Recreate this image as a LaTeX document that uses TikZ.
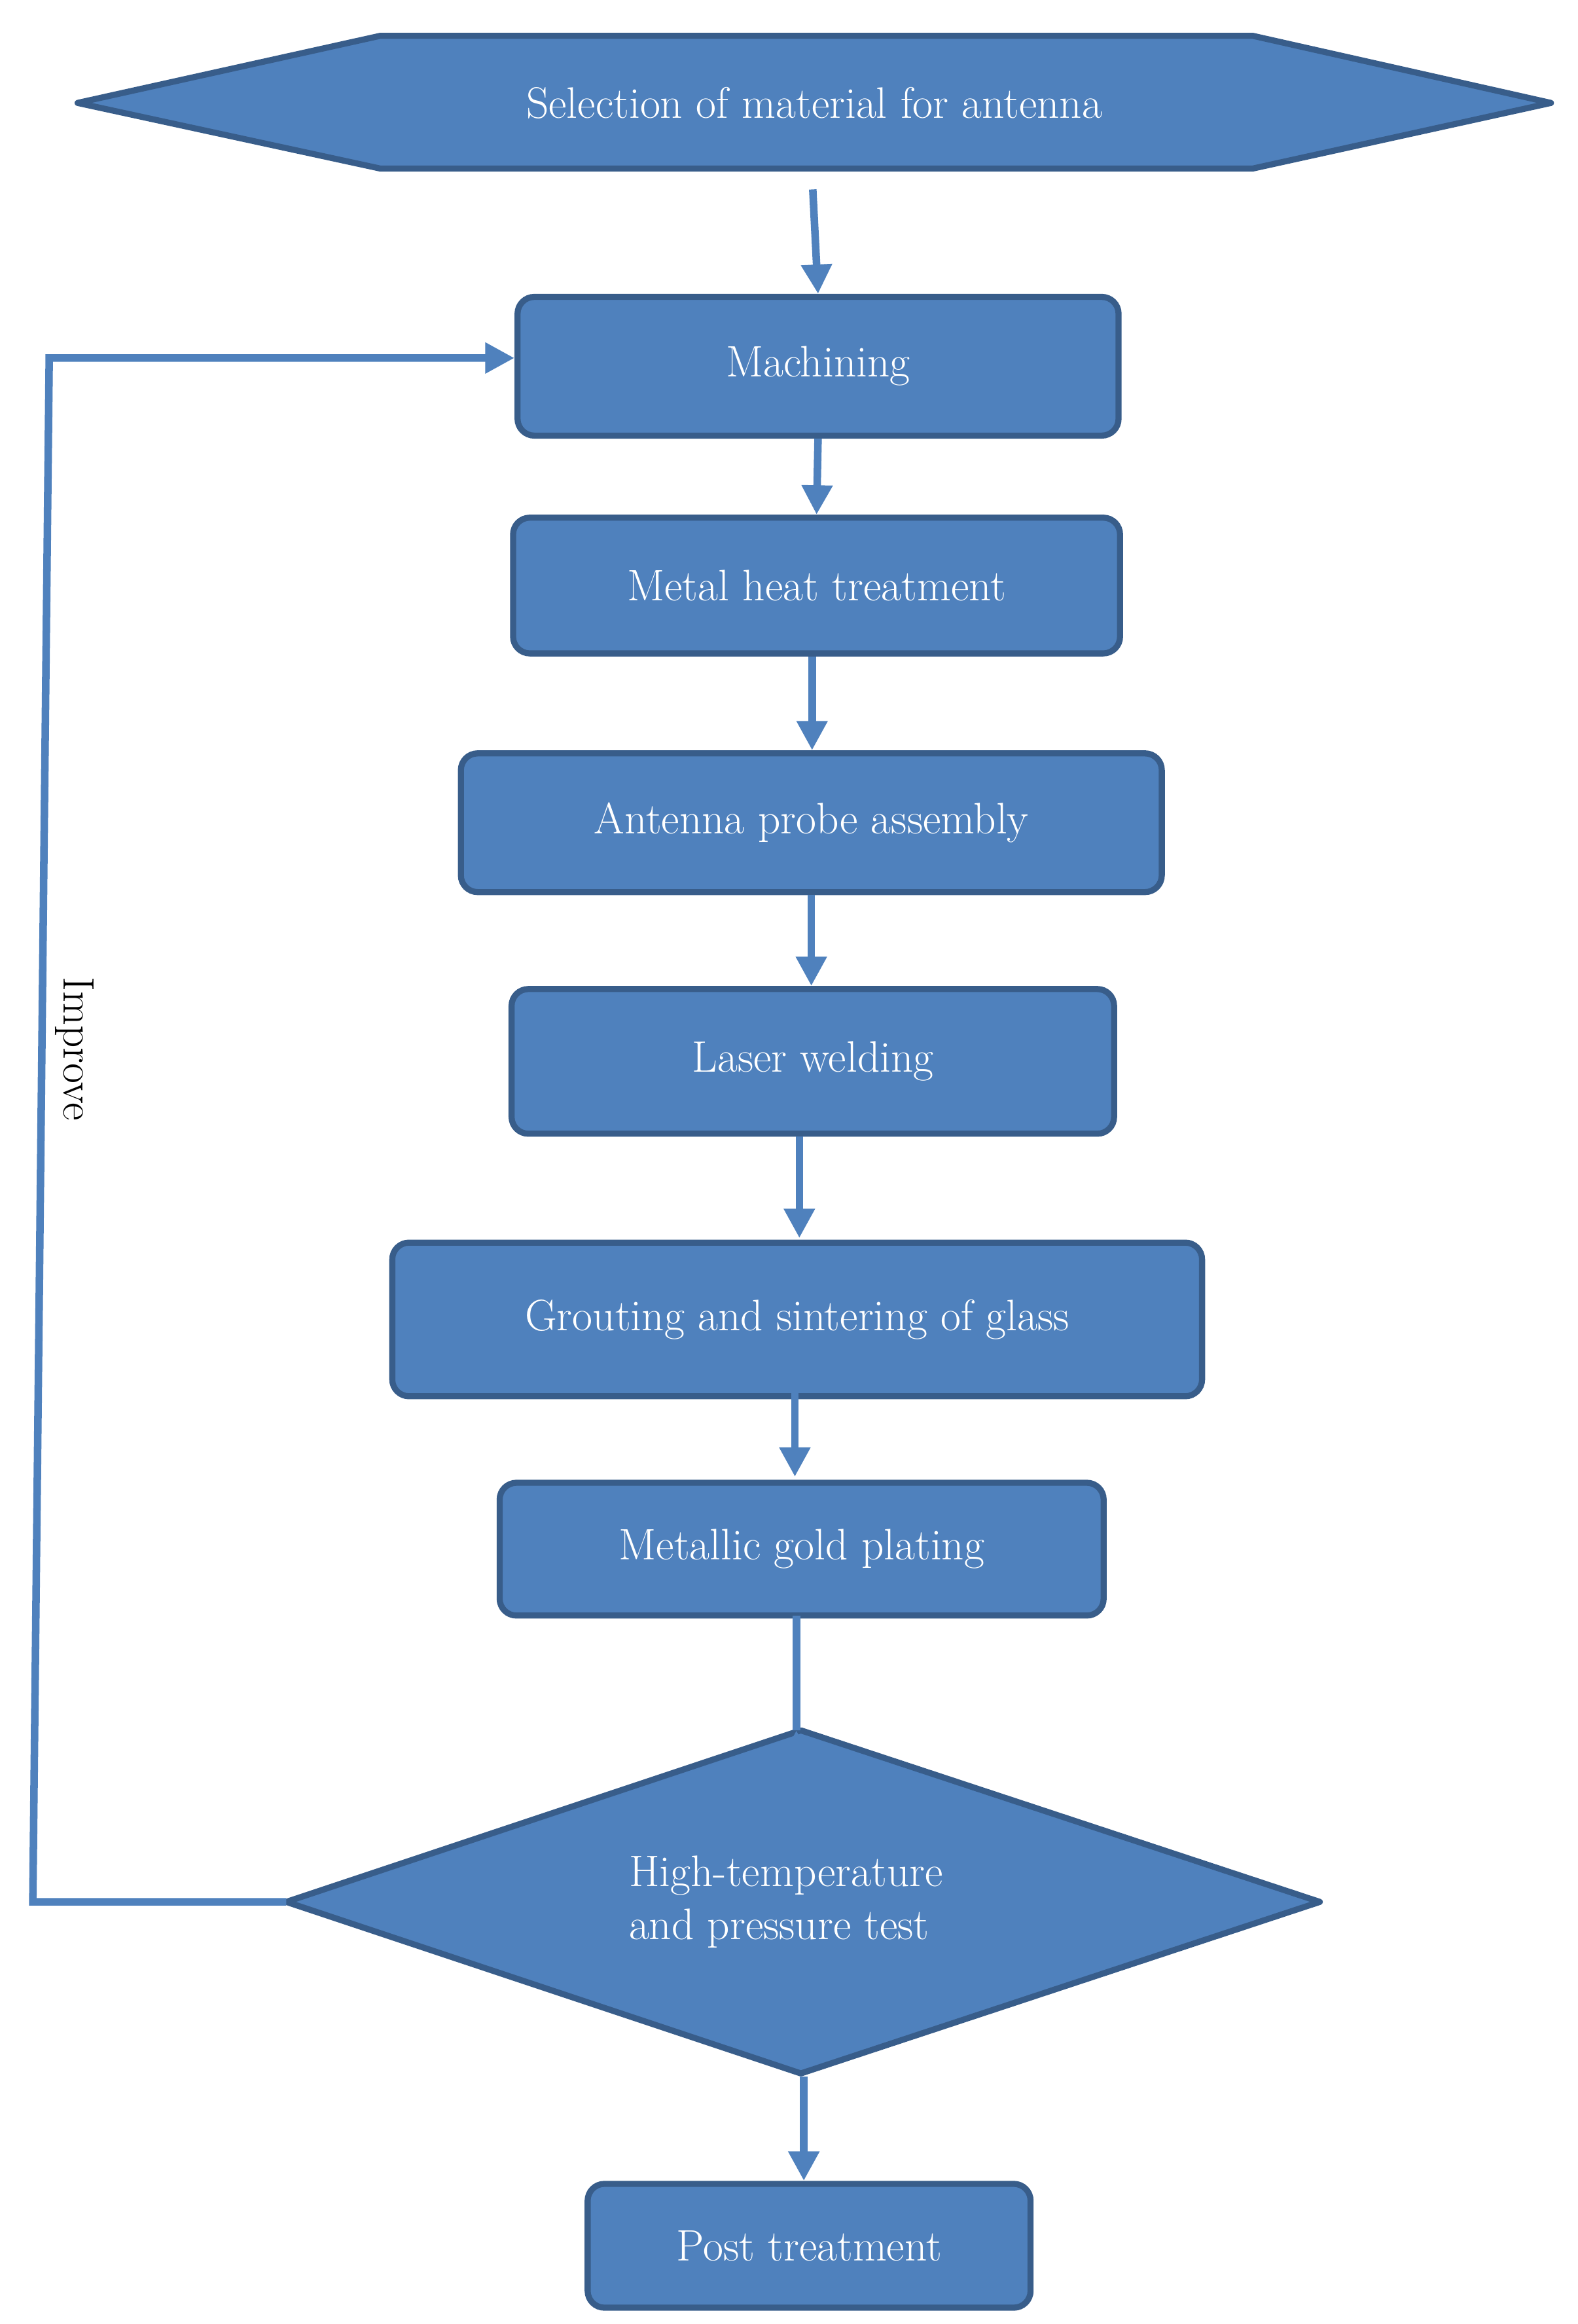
\documentclass[tikz,border=0pt]{standalone}
\usetikzlibrary{arrows.meta}
\definecolor{fillb}{HTML}{4F81BD}
\definecolor{edgeb}{HTML}{385D8A}
\begin{document}
\begin{tikzpicture}[x=0.025cm,y=-0.025cm,
  box/.style={draw=edgeb,fill=fillb,line width=2.9pt,rounded corners=8pt,text=white,font=\fontsize{21}{25}\selectfont,anchor=north west,inner sep=0pt},
  lbl/.style={text=white,font=\fontsize{21}{25}\selectfont,align=center},
  arr/.style={draw=fillb,line width=3.6pt,-{Triangle[length=14pt,width=14pt]}}]
\useasboundingbox (0,0) rectangle (1058,1558);
% hexagon
\draw[draw=edgeb,fill=fillb,line width=2.9pt,line join=round] (52,69)--(255,24)--(840,24)--(1040,69)--(840,113)--(255,113)--cycle;
\node[lbl] (sel) at (546,69) {Selection of material for antenna};
\coordinate (selb) at (545,127);
\node[box,minimum width=403*0.025cm,minimum height=93*0.025cm] (m1) at (345,197) {Machining};
\node[box,minimum width=407*0.025cm,minimum height=91*0.025cm] (m2) at (342,345) {Metal heat treatment};
\node[box,minimum width=470*0.025cm,minimum height=93*0.025cm] (m3) at (307,503) {Antenna probe assembly};
\node[box,minimum width=404*0.025cm,minimum height=97*0.025cm] (m4) at (341,661) {Laser welding};
\node[box,minimum width=543*0.025cm,minimum height=103*0.025cm] (m5) at (261,831) {Grouting and sintering of glass};
\node[box,minimum width=405*0.025cm,minimum height=89*0.025cm] (m6) at (333,992) {Metallic gold plating};
\draw[draw=edgeb,fill=fillb,line width=2.9pt,line join=round] (537,1160)--(885,1275)--(537,1390)--(192,1275)--cycle;
\coordinate (dtop) at (537,1160);
\coordinate (dbot) at (539,1392);
\coordinate (dleft) at (192,1275);
\node[lbl,align=left] (test) at (527,1275) {High-temperature\\and pressure test};
\node[box,minimum width=297*0.025cm,minimum height=83*0.025cm] (m7) at (392,1462) {Post treatment};
\draw[arr] (selb) -- (m1.north);
\draw[arr] (m1.south) -- (m2.north);
\draw[arr] (m2.south) ++(-3,0) -- ([xshift=-3*0.025cm]m2.south |- m3.north);
\draw[arr] (m3.south) -- (m3.south |- m4.north);
\draw[arr] (536,762) -- (m4.south -| 536,0) ++(0,0) -- (536,830);
\draw[arr] (533,934) -- (533,990);
\draw[arr] (534,1083) -- (dtop -| 534,0) -- (534,1160);
\draw[arr] (dbot) -- (539,1462);
\coordinate (c1) at (22,1275);
\coordinate (c2) at (33,240);
\draw[draw=fillb,line width=3.6pt,-{Triangle[length=14pt,width=14pt]}] (dleft) -- (c1) -- (c2) -- (m1.west |- c2);
\node[rotate=-90,font=\fontsize{21}{25}\selectfont] (imp) at (50,703) {Improve};
\end{tikzpicture}
\end{document}
